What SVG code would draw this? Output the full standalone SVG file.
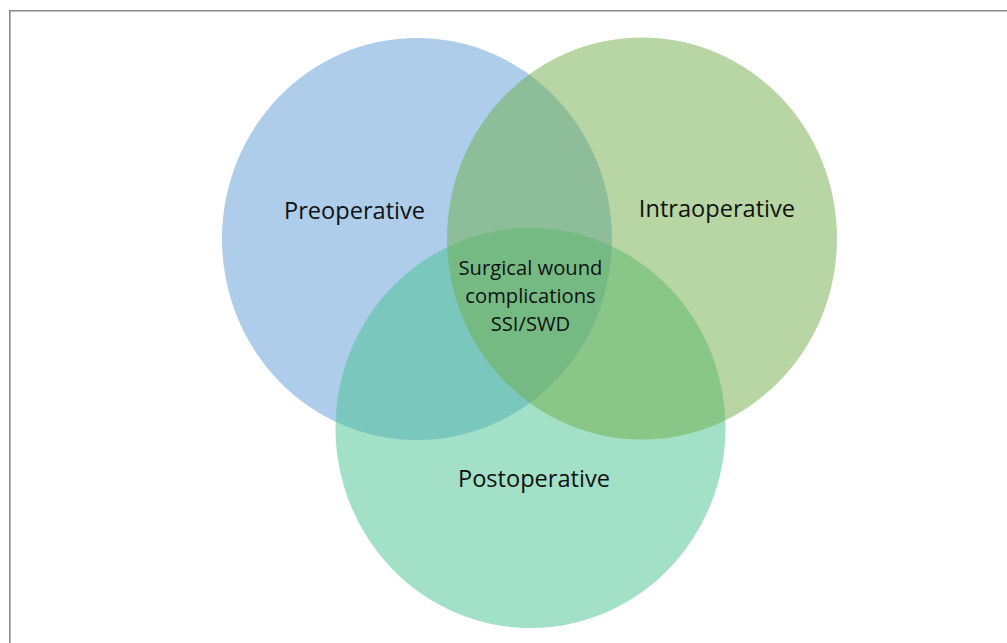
<svg xmlns="http://www.w3.org/2000/svg" width="1007" height="643" viewBox="0 0 1007 643">
<style>
.lbl{font-family:"Open Sans","Noto Sans","Liberation Sans",sans-serif;font-size:23.6px;fill:#111;text-anchor:middle}
.ctr{font-family:"Open Sans","Noto Sans","Liberation Sans",sans-serif;font-size:20.2px;fill:#111;text-anchor:middle}
.c{fill-opacity:0.5}
</style>
<rect width="1007" height="643" fill="#fff"/>
<path d="M9.8 643 V10.8 H1007" fill="none" stroke="#8a8a8a" stroke-width="1.6"/>
<g id="preoperative">
<ellipse class="c" cx="417" cy="239" rx="195" ry="201" fill="#5b9bd5"/>
</g>
<g id="postoperative">
<ellipse class="c" cx="530.5" cy="428" rx="195" ry="200" fill="#47c191"/>
</g>
<g id="intraoperative">
<ellipse class="c" cx="642" cy="238.5" rx="195" ry="201" fill="#70ad47"/>
</g>
<g id="labels">
<text class="lbl" x="354.5" y="219">Preoperative</text>
<text class="lbl" x="717" y="217">Intraoperative</text>
<text class="lbl" x="534" y="487">Postoperative</text>
</g>
<g id="center">
<text class="ctr" x="530.5" y="275">Surgical wound</text>
<text class="ctr" x="530.5" y="303">complications</text>
<text class="ctr" x="530.5" y="331">SSI/SWD</text>
</g>
<g id="connectors"/>
</svg>
